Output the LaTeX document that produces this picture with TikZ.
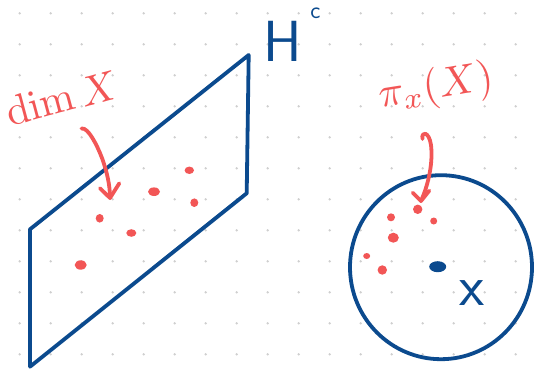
\documentclass[tikz,border=0pt]{standalone}
\usetikzlibrary{arrows.meta}
\definecolor{ink}{HTML}{0B4A8E}
\definecolor{pen}{HTML}{F25656}
\definecolor{griddot}{HTML}{CFCFCF}
\tikzset{
  blueline/.style={draw=ink, line width=3.8pt, line join=round, line cap=round},
  redline/.style={draw=pen, line width=3.8pt, line join=round, line cap=round},
  reddot/.style={fill=pen},
  lbl/.style={inner sep=0pt, outer sep=0pt},
}
\begin{document}
\begin{tikzpicture}[x=1pt,y=-1pt]
\useasboundingbox[fill=white] (0,0) rectangle (535,372);
% dot grid
\foreach \i in {0,...,16} \foreach \j in {0,...,11}
  \fill[griddot] (19.7+31*\i, 13.3+31*\j) circle (1.3);
% plane
\draw[blueline] (30,229.3) coordinate (tl) -- (248.7,55) coordinate (tr)
  -- (246.7,193.3) coordinate (br) -- (30,366.7) coordinate (bl) -- cycle;
% ball
\draw[blueline] (441,267.2) coordinate (c) ellipse [x radius=91, y radius=92];
% labels
\node[lbl, text=ink, anchor=base west] (H) at (263,61) {\fontsize{58}{60}\selectfont\sffamily H\hspace{9pt}\raisebox{43pt}{\fontsize{24}{24}\selectfont c}};
\node[lbl, text=pen, rotate=15] (dim) at (62,98) {\scalebox{4.2}{$\dim X$}};
\node[lbl, text=pen, rotate=9] (pi) at (436,88) {\scalebox{4.2}{$\pi_x(X)$}};
\node[lbl, text=ink, font=\fontsize{58}{60}\selectfont\sffamily] (x) at (472,293) {x};
% dots in the plane
\fill[reddot] (189.3,170.3) ellipse [x radius=4.7, y radius=3.7];
\fill[reddot] (154,191.7) ellipse [x radius=6, y radius=4.3];
\fill[reddot] (194.3,202.7) ellipse [x radius=4, y radius=4.3];
\fill[reddot] (99.7,218.3) ellipse [x radius=4, y radius=4.3];
\fill[reddot] (131.3,233) ellipse [x radius=5, y radius=3.8];
\fill[reddot] (80.7,265) ellipse [x radius=6, y radius=4.7];
% dots in the ball
\fill[reddot] (417.7,209.3) circle (4.7);
\fill[reddot] (391,217.3) circle (4);
\fill[reddot] (433.7,221) circle (3.5);
\fill[reddot] (393.3,237.7) ellipse [x radius=5.5, y radius=5];
\fill[reddot] (366.7,256) ellipse [x radius=3.5, y radius=3];
\fill[reddot] (382.3,270) circle (4.7);
\fill[ink] (437.7,266.7) coordinate (p) ellipse [x radius=8.5, y radius=5.5];
% arrows
\coordinate (a1s) at (81.5,128.5);
\coordinate (a1t) at (110,198);
\draw[redline] (a1s) .. controls (88,127) and (97,145) .. (102,158)
  .. controls (107,172) and (110,185) .. (a1t);
\draw[redline] (100,188.3) -- (a1t) -- (119.3,183.3);
\coordinate (a2s) at (422.5,139);
\coordinate (a2t) at (421,201);
\draw[redline] (a2s) .. controls (421,131) and (429,131) .. (431,145)
  .. controls (433,162) and (429,183) .. (a2t);
\draw[redline] (412.7,192.7) -- (a2t) -- (429.3,190.7);
\end{tikzpicture}
\end{document}
